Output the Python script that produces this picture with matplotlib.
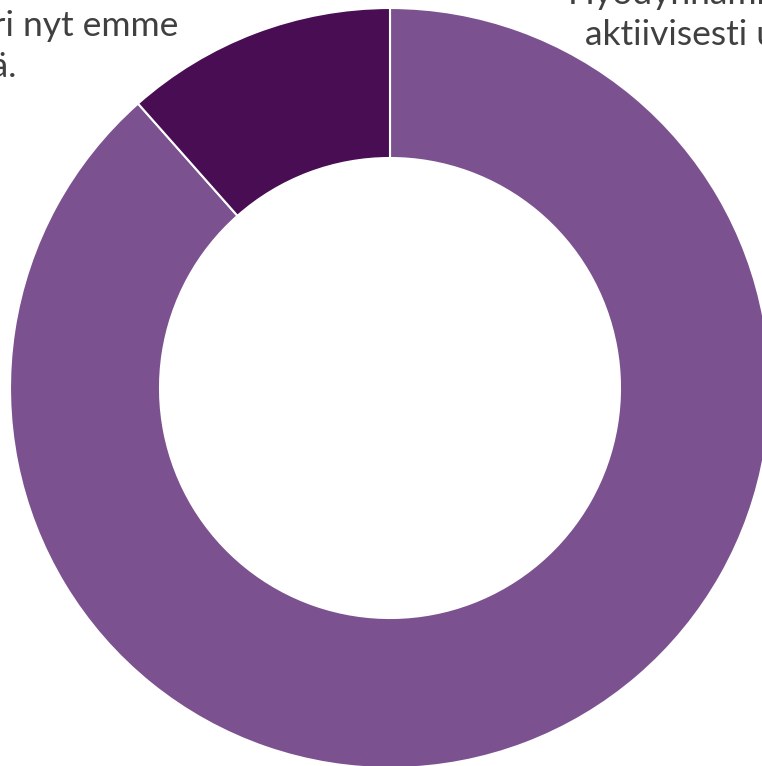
import matplotlib.pyplot as plt

# Data
labels = ["Hyödynnämme\naktiivisesti uusia", "Kiinnostaa, mutta juuri nyt emme\nhyödynnä."]
values = [23, 3]
colors = ['#7B528F', '#480D52']

fig = plt.figure(figsize=(7.62, 7.66), dpi=100)
ax = fig.add_axes([0, 0, 1, 1])

r = 380.0
cx, cy = 390.0, 388.0
ax.pie(values, colors=colors, startangle=90, counterclock=False, radius=1,
       wedgeprops=dict(width=150 / r, edgecolor='white', linewidth=1.5))

# map pixel frame to data units
ax.set_xlim(-cx / r, (762 - cx) / r)
ax.set_ylim(-(766 - cy) / r, cy / r)
ax.set_aspect('auto')
ax.axis('off')


def px(x, y):
    return (x - cx) / r, (cy - y) / r


txt = dict(fontsize=25.5, color='#404040', family='Lato', clip_on=False)

# right label (cut by the figure edge)
right_lines = labels[0].split('\n')
ax.text(*px(568, 4), right_lines[0], ha='left', va='baseline', **txt)
ax.text(*px(585, 45), right_lines[1], ha='left', va='baseline', **txt)

# left label (cut by the figure edge)
left_lines = labels[1].split('\n')
ax.text(*px(178, 36), left_lines[0], ha='right', va='baseline', **txt)
ax.text(*px(17, 77), left_lines[1], ha='right', va='baseline', **txt)

fig.savefig('out.png', dpi=100)
